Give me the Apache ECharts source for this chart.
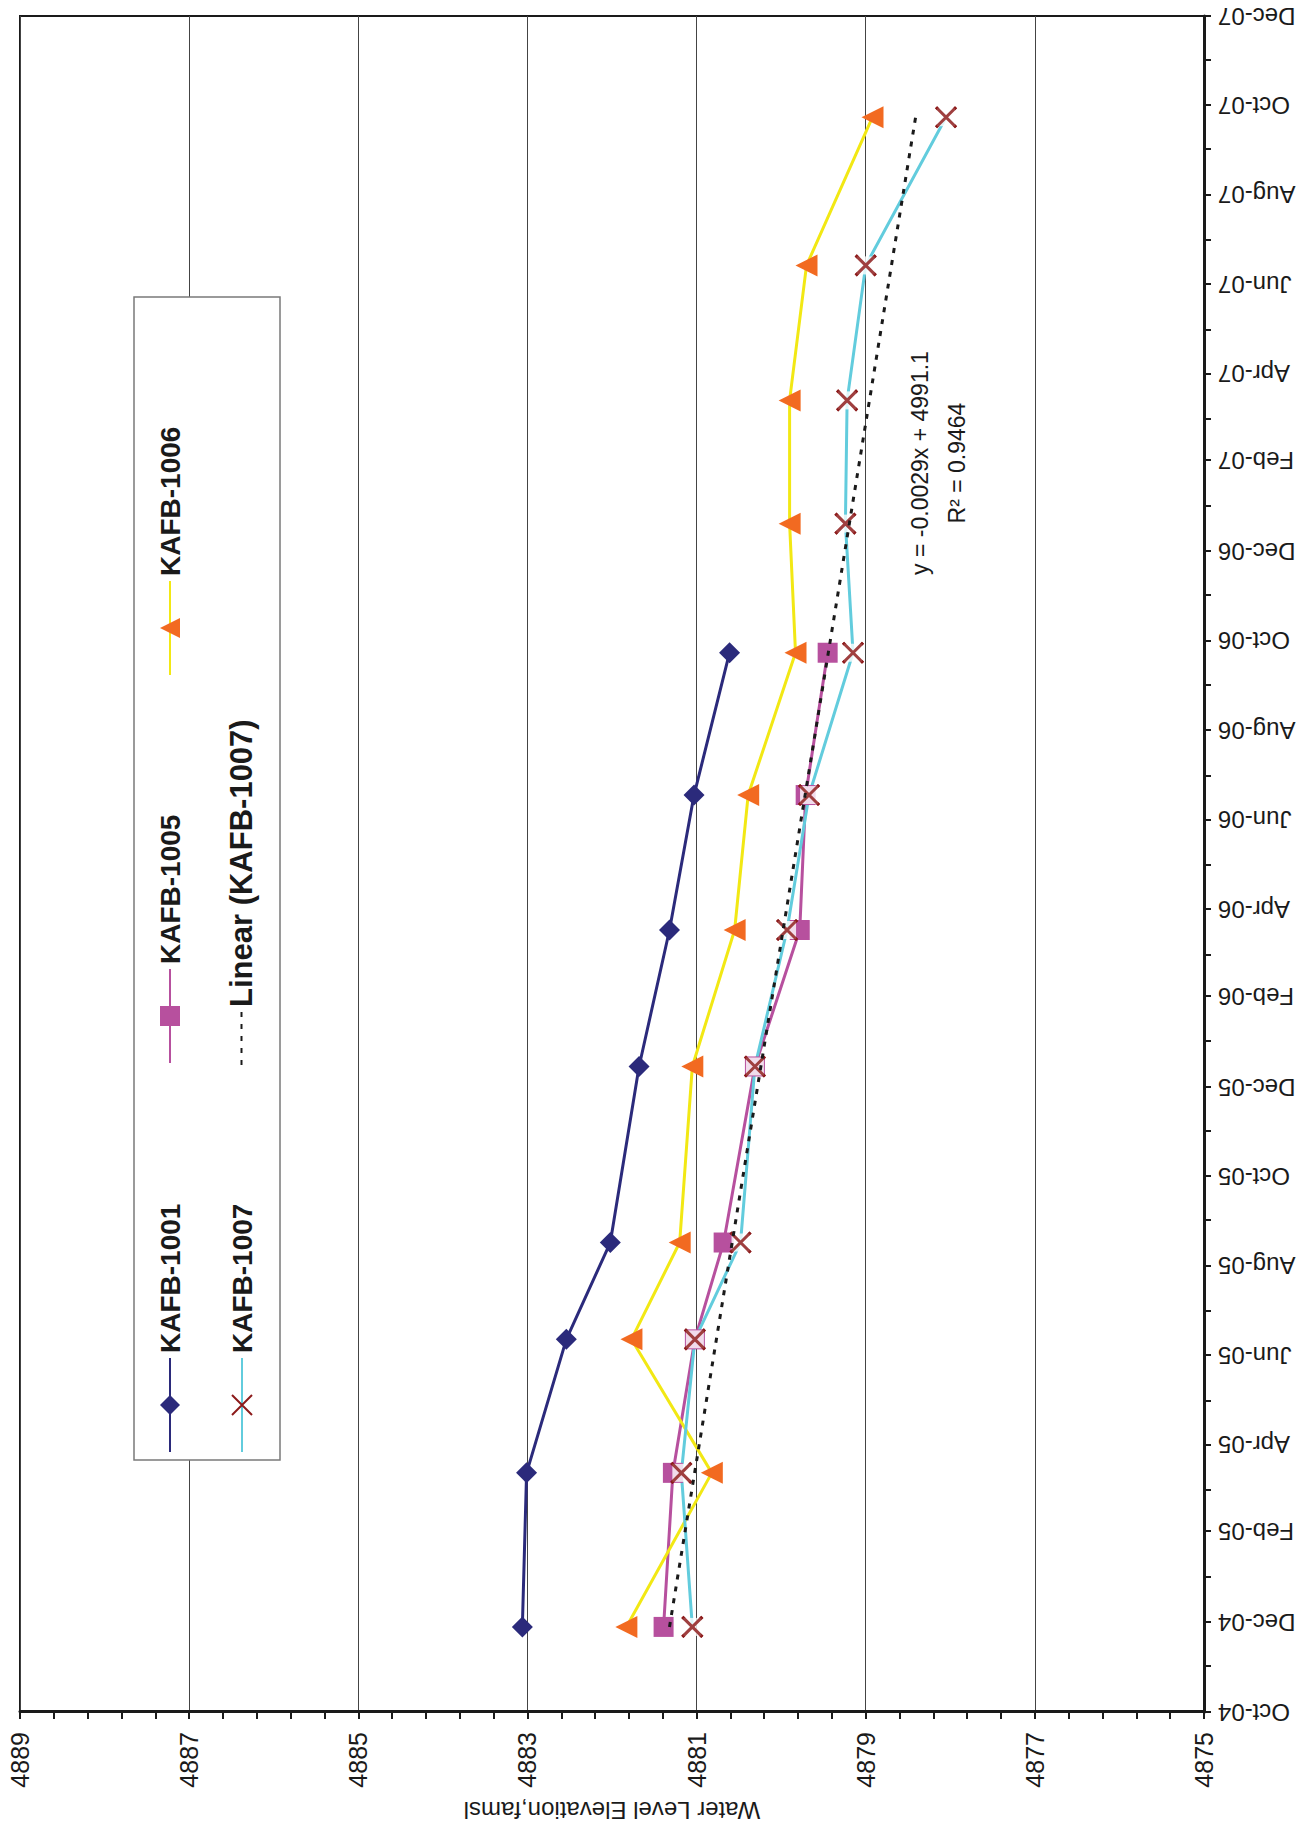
<!DOCTYPE html>
<html>
<head>
<meta charset="utf-8">
<script src="https://cdn.jsdelivr.net/npm/echarts@6/dist/echarts.min.js"></script>
<style>
html,body{margin:0;padding:0;background:#fff;}
body{width:1314px;height:1826px;overflow:hidden;position:relative;}
#chart{position:absolute;left:0;top:0;width:1826px;height:1314px;transform-origin:0 0;transform:translate(0px,1826px) rotate(-90deg);background:#fff;}
</style>
</head>
<body>
<div id="chart"></div>
<script>
// ---- data ----
const sampleDates = ['2004-11-28','2005-03-13','2005-06-12','2005-08-17','2005-12-15','2006-03-18','2006-06-18','2006-09-23','2006-12-20','2007-03-14','2007-06-14','2007-09-23'];
const kafb1001 = [4883.06, 4883.01, 4882.54, 4882.02, 4881.68, 4881.32, 4881.03, 4880.61];
const kafb1005 = [4881.39, 4881.28, 4881.02, 4880.68, 4880.31, 4879.78, 4879.71, 4879.45];
const kafb1006 = [4881.83, 4880.82, 4881.77, 4881.20, 4881.05, 4880.55, 4880.39, 4879.83, 4879.90, 4879.90, 4879.70, 4878.92];
const kafb1007 = [4881.05, 4881.18, 4881.02, 4880.48, 4880.31, 4879.93, 4879.67, 4879.15, 4879.24, 4879.22, 4879.00, 4878.05];
const trendDates = ['2004-11-28','2007-09-23'];
const trendValues = [4881.32, 4878.41];
const dateTickLabels = ['Oct-04','Dec-04','Feb-05','Apr-05','Jun-05','Aug-05','Oct-05','Dec-05','Feb-06','Apr-06','Jun-06','Aug-06','Oct-06','Dec-06','Feb-07','Apr-07','Jun-07','Aug-07','Oct-07','Dec-07'];
const valueMin = 4875, valueMax = 4889, valueStep = 2;
const equationLines = ['y = -0.0029x + 4991.1', 'R\u00B2 = 0.9464'];

// ---- helpers ----
const FONT = "'Liberation Sans', Arial, Helvetica, sans-serif";
const MONTHS = ['Jan','Feb','Mar','Apr','May','Jun','Jul','Aug','Sep','Oct','Nov','Dec'];
function parseDay(s){ const p = s.split('-').map(Number); return Date.UTC(p[0], p[1]-1, p[2]); }
function labelTime(l){ const p = l.split('-'); return Date.UTC(2000 + Number(p[1]), MONTHS.indexOf(p[0]), 1); }
const labelTimes = dateTickLabels.map(labelTime);
const axisMin = labelTimes[0], axisMax = labelTimes[labelTimes.length-1];
const monthTicks = [];
(function(){ const d0 = new Date(axisMin); for (let i = 0; ; i++) { const t = Date.UTC(d0.getUTCFullYear(), d0.getUTCMonth()+i, 1); if (t > axisMax) break; monthTicks.push(t);} })();
function pairs(vals){ return vals.map((v,i)=>[parseDay(sampleDates[i]), v]); }
function findLabel(v){ let best = '', bd = Infinity; labelTimes.forEach((t,i)=>{ const d = Math.abs(t - v); if (d < bd) { bd = d; best = dateTickLabels[i]; } }); return bd < 86400000 ? best : ''; }

const XPATH = 'path://M0,0 L20,20 M20,0 L0,20';
const C1001 = '#2B2A7B', C1005 = '#B7509E', C1006L = '#F2E814', C1006M = '#F26A21', C1007L = '#62CCDD', C1007M = '#8C1A1A';

const legendText = {fontSize: 28, fontWeight: 'bold', fontFamily: FONT, color: '#1a1a1a'};
const legBase = {orient:'horizontal', itemWidth:94, itemHeight:25, padding:0, selectedMode:false, textStyle: legendText, z: 6};

const option = {
  animation: false,
  backgroundColor: '#fff',
  grid: {left:114, right:16, top:20, bottom:110, show:true, borderColor:'#1a1a1a', borderWidth:2, outerBoundsMode:'none'},
  xAxis: {
    type: 'value', min: axisMin, max: axisMax,
    axisLine: {show:true, lineStyle:{color:'#1a1a1a', width:3}},
    axisTick: {show:true, customValues: monthTicks, length:7, lineStyle:{color:'#1a1a1a', width:2}},
    axisLabel: {customValues: labelTimes, formatter: function(v){ return findLabel(v); }, rotate:90, margin:14, fontSize:24, color:'#1a1a1a', fontFamily: FONT, hideOverlap:false, showMinLabel:true, showMaxLabel:true},
    splitLine: {show:false}, minorTick:{show:false}
  },
  yAxis: {
    type: 'value', min: valueMin, max: valueMax, interval: valueStep,
    axisLine: {show:true, lineStyle:{color:'#1a1a1a', width:3}},
    axisTick: {show:true, length:7, lineStyle:{color:'#1a1a1a', width:2}},
    minorTick: {show:true, splitNumber:5, length:7, lineStyle:{color:'#1a1a1a', width:2}},
    splitLine: {show:true, lineStyle:{color:'#444', width:1}},
    axisLabel: {fontSize:25, margin:20, color:'#1a1a1a', fontFamily: FONT, formatter: function(v){ return String(v); }},
    name: 'Water Level Elevation,famsl', nameLocation:'middle', nameRotate:90, nameGap:82,
    nameTextStyle: {fontSize:24, color:'#1a1a1a', fontFamily: FONT}
  },
  legend: [
    Object.assign({}, legBase, {data:['KAFB-1001'], left:373, top:156}),
    Object.assign({}, legBase, {data:['KAFB-1005'], left:762, top:156}),
    Object.assign({}, legBase, {data:['KAFB-1006'], left:1150, top:156}),
    Object.assign({}, legBase, {data:['KAFB-1007'], left:373, top:228}),
    Object.assign({}, legBase, {data:['Linear (KAFB-1007)'], left:760, top:226, itemWidth:53, itemStyle:{opacity:0},
      textStyle: Object.assign({}, legendText, {fontSize:31})})
  ],
  graphic: [
    {type:'rect', shape:{x:366, y:134, width:1163, height:146}, style:{fill:'#fff', stroke:'#7a7a7a', lineWidth:1.5}, z:3, silent:true},
    {type:'text', x:1363, y:920, style:{text: equationLines[0], fontSize:23, fontFamily: FONT, fill:'#1a1a1a', align:'center', verticalAlign:'middle'}, z:7},
    {type:'text', x:1363, y:957, style:{text: equationLines[1], fontSize:23, fontFamily: FONT, fill:'#1a1a1a', align:'center', verticalAlign:'middle'}, z:7}
  ],
  series: [
    {name:'KAFB-1001', type:'line', data: pairs(kafb1001), symbol:'diamond', symbolSize:21, showAllSymbol:true,
     itemStyle:{color:C1001}, lineStyle:{color:C1001, width:3}, z:2},
    {name:'KAFB-1005', type:'line', data: pairs(kafb1005), symbol:'rect', symbolSize:20, showAllSymbol:true,
     itemStyle:{color:C1005}, lineStyle:{color:C1005, width:3}, z:2},
    {name:'KAFB-1006', type:'line', data: pairs(kafb1006), symbol:'triangle', symbolSize:22, showAllSymbol:true,
     itemStyle:{color:C1006M}, lineStyle:{color:C1006L, width:3}, z:2},
    {name:'KAFB-1007', type:'line', data: pairs(kafb1007), symbol: XPATH, symbolSize:20, showAllSymbol:true,
     itemStyle:{color:C1007M, borderColor:C1007M, borderWidth:3}, lineStyle:{color:C1007L, width:3}, z:2},
    {name:'kafb1007-bg', type:'scatter', data: pairs(kafb1007), symbol:'rect', symbolSize:18, itemStyle:{color:'#fff'}, z:3, silent:true},
    {name:'kafb1007-x', type:'scatter', data: pairs(kafb1007), symbol: XPATH, symbolSize:20, itemStyle:{color:C1007M, borderColor:C1007M, borderWidth:3}, z:4, silent:true},
    {name:'Linear (KAFB-1007)', type:'line', data: trendValues.map((v,i)=>[parseDay(trendDates[i]), v]), symbol:'none',
     itemStyle:{color:'#1a1a1a'}, lineStyle:{color:'#1a1a1a', width:3, type:[5,7]}, z:5}
  ]
};
const chart = echarts.init(document.getElementById('chart'), null, {renderer:'svg', width:1826, height:1314});
chart.setOption(option);
</script>
</body>
</html>
